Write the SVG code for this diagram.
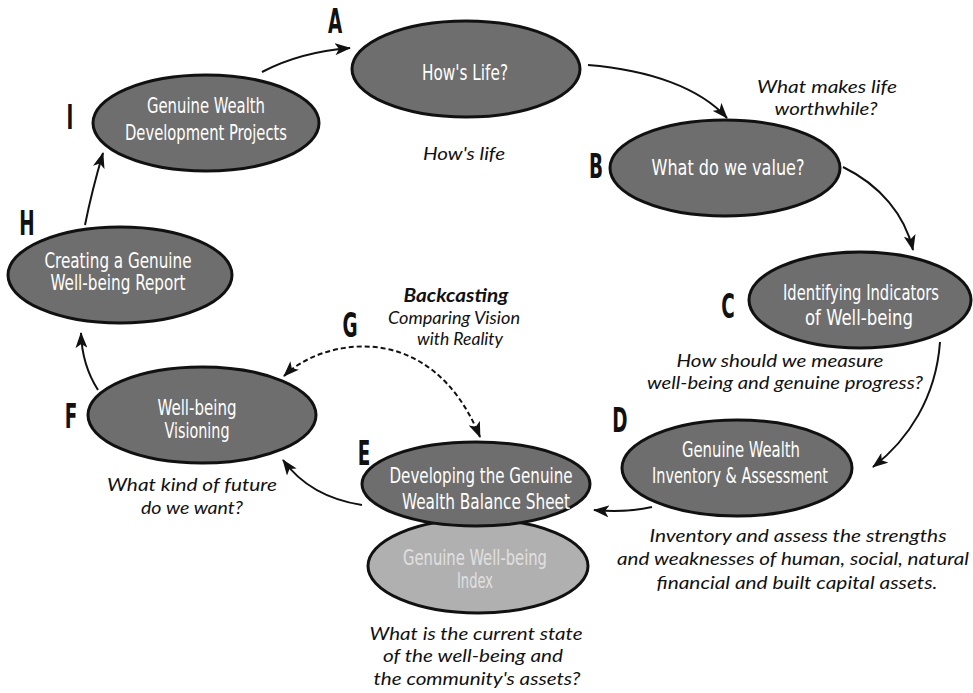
<svg xmlns="http://www.w3.org/2000/svg" width="973" height="693" viewBox="0 0 973 693">
<style>
.bg{fill:#ffffff}
.node{fill:#6e6e6e;stroke:#111;stroke-width:3}
.node2{fill:#b0b0b0;stroke:#111;stroke-width:3}
.nt{font-family:"DejaVu Sans Condensed","DejaVu Sans",sans-serif;font-size:21px;fill:#ffffff;text-anchor:middle}
.nt2{font-family:"DejaVu Sans Condensed","DejaVu Sans",sans-serif;font-size:21px;fill:#e0e0e0;text-anchor:middle}
.let{font-family:"DejaVu Sans Condensed","DejaVu Sans",sans-serif;font-weight:bold;font-size:33px;fill:#111;text-anchor:middle}
.lab{font-family:Lato,"Open Sans",sans-serif;font-style:italic;font-size:18px;fill:#111;text-anchor:middle}
.labb{font-family:Lato,"Open Sans",sans-serif;font-style:italic;font-weight:bold;font-size:18px;fill:#111;text-anchor:middle}
.con{fill:none;stroke:#111;stroke-width:2}
.dash{fill:none;stroke:#111;stroke-width:2;stroke-dasharray:5 3}
</style>
<defs>
<marker id="ah" markerUnits="userSpaceOnUse" markerWidth="16" markerHeight="12" refX="15" refY="6" orient="auto-start-reverse">
<path d="M0,0 L16,6 L0,12 L4,6 z" fill="#111"/>
</marker>
</defs>
<rect class="bg" x="0" y="0" width="973" height="693"/>

<g id="connectors">
<path class="con" d="M262,72 Q300,52 350,48" marker-end="url(#ah)"/>
<path class="con" d="M588,65 C650,70 700,88 727,118" marker-end="url(#ah)"/>
<path class="con" d="M843,167 C880,185 905,215 913,250" marker-end="url(#ah)"/>
<path class="con" d="M940,342 C936,398 908,440 873,467" marker-end="url(#ah)"/>
<path class="con" d="M652,507 Q625,513 594,510" marker-end="url(#ah)"/>
<path class="con" d="M362,505 Q310,497 283,460" marker-end="url(#ah)"/>
<path class="con" d="M98,390 Q82,365 81,333" marker-end="url(#ah)"/>
<path class="con" d="M85,225 Q92,190 103,153" marker-end="url(#ah)"/>
<path class="dash" d="M284,376 C320,340 430,315 480,437" marker-start="url(#ah)" marker-end="url(#ah)"/>
</g>

<g id="node-A">
<ellipse class="node" cx="466" cy="69" rx="114" ry="48"/>
<text class="nt" x="465" y="80" textLength="86" lengthAdjust="spacingAndGlyphs">How's Life?</text>
<text class="let" transform="translate(335,33) scale(0.62,1)">A</text>
</g>
<g id="node-B">
<ellipse class="node" cx="725" cy="168" rx="115" ry="48"/>
<text class="nt" x="728" y="175" textLength="153" lengthAdjust="spacingAndGlyphs">What do we value?</text>
<text class="let" transform="translate(596,178) scale(0.62,1)">B</text>
</g>
<g id="node-C">
<ellipse class="node" cx="860" cy="300" rx="111" ry="48"/>
<text class="nt" x="861" y="300" textLength="156" lengthAdjust="spacingAndGlyphs">Identifying Indicators</text>
<text class="nt" x="859" y="325" textLength="108" lengthAdjust="spacingAndGlyphs">of Well-being</text>
<text class="let" transform="translate(728,318) scale(0.62,1)">C</text>
</g>
<g id="node-D">
<ellipse class="node" cx="737" cy="468" rx="115" ry="48"/>
<text class="nt" x="741" y="457" textLength="118" lengthAdjust="spacingAndGlyphs">Genuine Wealth</text>
<text class="nt" x="740" y="483" textLength="176" lengthAdjust="spacingAndGlyphs">Inventory &amp; Assessment</text>
<text class="let" transform="translate(620,432) scale(0.62,1)">D</text>
</g>
<g id="node-E-index">
<ellipse class="node2" cx="478" cy="566" rx="110" ry="47"/>
<text class="nt2" x="475" y="565" textLength="144" lengthAdjust="spacingAndGlyphs">Genuine Well-being</text>
<text class="nt2" x="475" y="588" textLength="36" lengthAdjust="spacingAndGlyphs">Index</text>
</g>
<g id="node-E">
<ellipse class="node" cx="476" cy="484" rx="114" ry="42"/>
<text class="nt" x="481" y="483" textLength="183" lengthAdjust="spacingAndGlyphs">Developing the Genuine</text>
<text class="nt" x="486" y="509" textLength="168" lengthAdjust="spacingAndGlyphs">Wealth Balance Sheet</text>
<text class="let" transform="translate(364,465) scale(0.62,1)">E</text>
</g>
<g id="node-F">
<ellipse class="node" cx="202" cy="415" rx="114" ry="48"/>
<text class="nt" x="197" y="415" textLength="79" lengthAdjust="spacingAndGlyphs">Well-being</text>
<text class="nt" x="197" y="438" textLength="65" lengthAdjust="spacingAndGlyphs">Visioning</text>
<text class="let" transform="translate(71,428) scale(0.62,1)">F</text>
</g>
<g id="node-G">
<text class="let" transform="translate(350,337) scale(0.62,1)">G</text>
</g>
<g id="node-H">
<ellipse class="node" cx="120" cy="275" rx="112" ry="48"/>
<text class="nt" x="118" y="268" textLength="147" lengthAdjust="spacingAndGlyphs">Creating a Genuine</text>
<text class="nt" x="118" y="290" textLength="135" lengthAdjust="spacingAndGlyphs">Well-being Report</text>
<text class="let" transform="translate(27,235) scale(0.62,1)">H</text>
</g>
<g id="node-I">
<ellipse class="node" cx="206" cy="123" rx="113" ry="48"/>
<text class="nt" x="206" y="113" textLength="118" lengthAdjust="spacingAndGlyphs">Genuine Wealth</text>
<text class="nt" x="206" y="140" textLength="162" lengthAdjust="spacingAndGlyphs">Development Projects</text>
<text class="let" transform="translate(70,129) scale(0.62,1)">I</text>
</g>

<g id="labels">
<text class="lab" x="464" y="160" textLength="82" lengthAdjust="spacingAndGlyphs">How's life</text>
<text class="lab" x="827" y="93" textLength="140" lengthAdjust="spacingAndGlyphs">What makes life</text>
<text class="lab" x="826" y="115" textLength="103" lengthAdjust="spacingAndGlyphs">worthwhile?</text>
<text class="lab" x="780" y="367" textLength="207" lengthAdjust="spacingAndGlyphs">How should we measure</text>
<text class="lab" x="785" y="389" textLength="276" lengthAdjust="spacingAndGlyphs">well-being and genuine progress?</text>
<text class="labb" x="456" y="302" textLength="105" lengthAdjust="spacingAndGlyphs">Backcasting</text>
<text class="lab" x="454" y="324" textLength="132" lengthAdjust="spacingAndGlyphs">Comparing Vision</text>
<text class="lab" x="460" y="345" textLength="86" lengthAdjust="spacingAndGlyphs">with Reality</text>
<text class="lab" x="192" y="491" textLength="170" lengthAdjust="spacingAndGlyphs">What kind of future</text>
<text class="lab" x="192" y="514" textLength="102" lengthAdjust="spacingAndGlyphs">do we want?</text>
<text class="lab" x="798" y="542" textLength="297" lengthAdjust="spacingAndGlyphs">Inventory and assess the strengths</text>
<text class="lab" x="793" y="565" textLength="352" lengthAdjust="spacingAndGlyphs">and weaknesses of human, social, natural</text>
<text class="lab" x="797" y="589" textLength="281" lengthAdjust="spacingAndGlyphs">financial and built capital assets.</text>
<text class="lab" x="476" y="640" textLength="213" lengthAdjust="spacingAndGlyphs">What is the current state</text>
<text class="lab" x="473" y="662" textLength="180" lengthAdjust="spacingAndGlyphs">of the well-being and</text>
<text class="lab" x="477" y="685" textLength="207" lengthAdjust="spacingAndGlyphs">the community's assets?</text>
</g>
</svg>
